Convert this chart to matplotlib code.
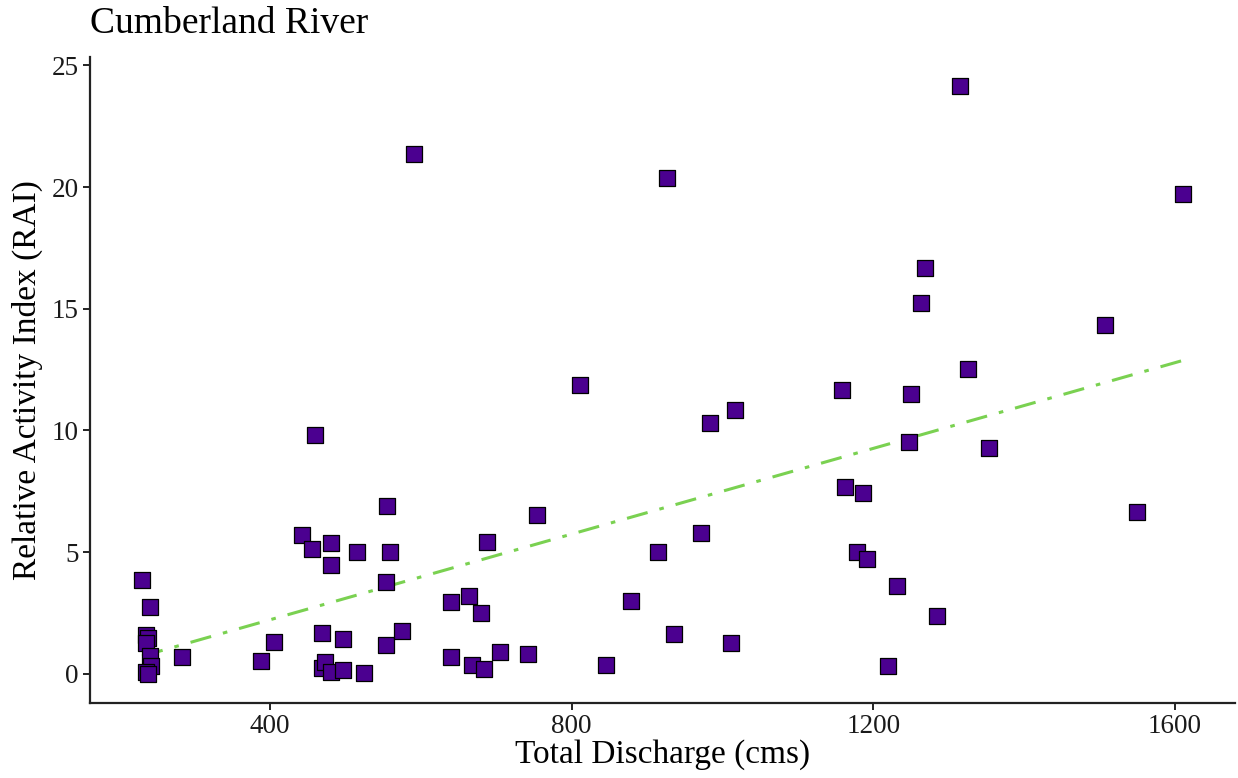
import numpy as np
import matplotlib
matplotlib.use("Agg")
import matplotlib.pyplot as plt

# Total discharge (cms) and relative activity index for each sampling event
discharge = [230, 241, 235, 238, 235, 240, 242, 235, 238, 283,
             388, 405, 442, 456, 460, 469, 469, 473, 480, 480,
             481, 497, 497, 515, 525, 553, 554, 555, 559, 575,
             591, 640, 640, 664, 668, 679, 683, 687, 705, 742,
             754, 811, 845, 879, 914, 927, 935, 971, 983, 1011,
             1017, 1159, 1162, 1179, 1187, 1192, 1219, 1232, 1248, 1250,
             1263, 1269, 1285, 1315, 1325, 1354, 1507, 1550, 1611]
rai = [3.84, 2.74, 1.59, 1.47, 1.27, 0.74, 0.33, 0.08, 0.00, 0.69,
       0.53, 1.31, 5.68, 5.11, 9.80, 1.67, 0.25, 0.49, 5.39, 4.45,
       0.08, 1.43, 0.16, 4.98, 0.04, 1.18, 3.76, 6.90, 4.98, 1.76,
       21.36, 2.94, 0.69, 3.19, 0.37, 2.49, 0.20, 5.43, 0.90, 0.82,
       6.54, 11.85, 0.37, 2.98, 4.98, 20.38, 1.63, 5.80, 10.29, 1.27,
       10.83, 11.68, 7.68, 5.02, 7.43, 4.70, 0.33, 3.59, 9.52, 11.48,
       15.24, 16.67, 2.37, 24.14, 12.54, 9.27, 14.34, 6.66, 19.73]

x_ticks = [400, 800, 1200, 1600]
y_ticks = [0, 5, 10, 15, 20, 25]

plt.rcParams['font.family'] = ['Liberation Serif', 'DejaVu Serif']

fig = plt.figure(figsize=(12.38, 7.78), dpi=100)
ax = fig.add_axes([0.0727, 0.0964, 0.925, 0.8303])

x = np.asarray(discharge, dtype=float)
y = np.asarray(rai, dtype=float)

# least-squares trend line across the observed discharge range
slope, intercept = np.polyfit(x, y, 1)
xs = np.array([x.min(), x.max()])
ax.plot(xs, intercept + slope * xs, color='#7ad151', lw=2.2,
        dashes=(7, 4, 1.5, 4), zorder=3)

ax.scatter(x, y, marker='s', s=130, facecolor='#4b0090',
           edgecolor='black', linewidth=0.9, zorder=4)

# ggplot-style 5% expansion of the data range
xr = x.max() - x.min()
yr = y.max() - y.min()
ax.set_xlim(x.min() - 0.05 * xr, x.max() + 0.05 * xr)
ax.set_ylim(y.min() - 0.05 * yr, y.max() + 0.05 * yr)

ax.set_xticks(x_ticks)
ax.set_yticks(y_ticks)
ax.set_xticklabels([str(t) for t in x_ticks])
ax.set_yticklabels([str(t) for t in y_ticks])

for side in ('top', 'right'):
    ax.spines[side].set_visible(False)
for side in ('left', 'bottom'):
    ax.spines[side].set_linewidth(1.6)
    ax.spines[side].set_color('#222222')

ax.tick_params(axis='both', direction='out', length=5, width=1.4,
               color='#222222', labelsize=19.5, labelcolor='#1a1a1a', pad=3)

ax.set_xlabel('Total Discharge (cms)', fontsize=24, labelpad=0)
ax.set_ylabel('Relative Activity Index (RAI)', fontsize=24, labelpad=6)
ax.set_title('Cumberland River', loc='left', fontsize=27, pad=17)

fig.savefig('out.png', dpi=100, facecolor='white')
